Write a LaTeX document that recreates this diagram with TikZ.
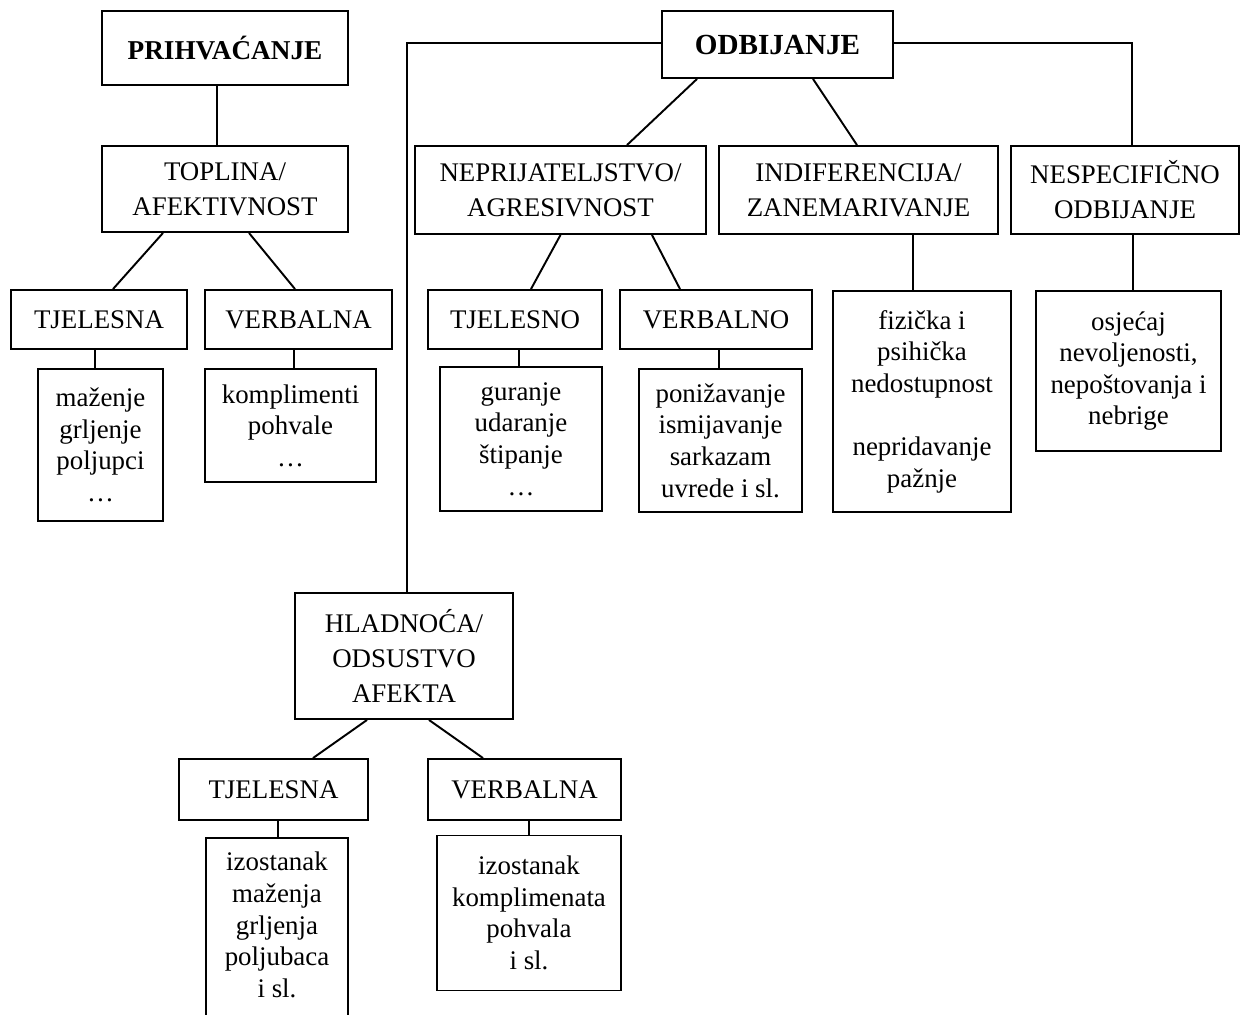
\documentclass[tikz,border=0pt]{standalone}
\usepackage{fontspec}
\setmainfont{Liberation Serif}
\usetikzlibrary{calc}
\begin{document}
\begin{tikzpicture}[x=0.02cm,y=-0.02cm,
  line width=1.1pt,
  bx/.style args={#1/#2}{draw,line width=1.1pt,inner sep=0pt,align=center,
     minimum width=#1*0.02cm,minimum height=#2*0.02cm,
     font=\fontsize{15.3}{20}\selectfont},
  lbx/.style args={#1/#2}{bx=#1/#2,font=\fontsize{15.3}{18}\selectfont},
  txt/.style={inner sep=0pt,align=center,font=\fontsize{15.3}{18}\selectfont},
  conn/.style={line width=1.1pt}]
\useasboundingbox (0,0) rectangle (1240,1014);
% top level
\node[bx=246/74,font=\fontsize{15.5}{20}\selectfont\bfseries] (pri) at (225,48) {PRIHVAĆANJE};
\node[bx=231/67,font=\fontsize{16.6}{20}\selectfont\bfseries] (odb) at (777.5,44.5) {ODBIJANJE};
% acceptance branch
\node[bx=246/86] (top) at (225,189) {TOPLINA/\\AFEKTIVNOST};
\node[bx=176/59] (tj1) at (99,319.5) {TJELESNA};
\node[bx=187/59] (vb1) at (298.5,319.5) {VERBALNA};
\node[lbx=125/152] (c1) at (100.5,445) {maženje\\grljenje\\poljupci\\…};
\node[lbx=171/113] (c2) at (290.5,425.5) {komplimenti\\pohvale\\…};
% rejection branch
\node[bx=291/88] (nep) at (560.5,190) {NEPRIJATELJSTVO/\\AGRESIVNOST};
\node[bx=279/88] (ind) at (858.5,190) {INDIFERENCIJA/\\ZANEMARIVANJE};
\node[bx=228/88] (nes) at (1125,190) {NESPECIFIČNO\\ODBIJANJE};
\node[bx=174/59] (tj2) at (515,319.5) {TJELESNO};
\node[bx=192/59] (vb2) at (716,319.5) {VERBALNO};
\node[lbx=162/144] (c3) at (521,439) {guranje\\udaranje\\štipanje\\…};
\node[lbx=163/143] (c4) at (720.5,440.5) {ponižavanje\\ismijavanje\\sarkazam\\uvrede i sl.};
\node[lbx=178/221] (c5) at (922,401.5) {fizička i\\psihička\\nedostupnost\\~\\nepridavanje\\pažnje};
\node[lbx=185/160] (c6) at (1128.5,371) {osjećaj\\nevoljenosti,\\nepoštovanja i\\nebrige};
% coldness
\node[bx=218/126] (hla) at (404,656) {HLADNOĆA/\\ODSUSTVO\\AFEKTA};
\node[bx=189/61] (tj3) at (273.5,789.5) {TJELESNA};
\node[bx=193/61] (vb3) at (524.5,789.5) {VERBALNA};
\node[txt,minimum width=142*0.02cm] (c7) at (277,925) {izostanak\\maženja\\grljenja\\poljubaca\\i sl.};
\draw (206,1016) -- (206,838) coordinate (c7top) -- (348,838) -- (348,1016);
\node[lbx=184/155] (c8) at (529,913) {izostanak\\komplimenata\\pohvala\\i sl.};
% connectors
\draw ($(pri.south)+(-8,0)$) coordinate (a) -- (a |- top.north);
\draw ($(odb.west)+(0,-1.5)$) -| ($(hla.north)+(3,0)$);
\draw ($(odb.east)+(0,-1.5)$) -| ($(nes.north)+(7,0)$);
\draw ($(odb.south)+(-80.5,0)$) -- ($(nep.north)+(66.5,0)$);
\draw ($(odb.south)+(35.5,0)$) -- ($(ind.north)+(-1.5,0)$);
\draw ($(top.south)+(-62,0)$) -- ($(tj1.north)+(14,0)$);
\draw ($(top.south)+(24,0)$) -- ($(vb1.north)+(-3.5,0)$);
\draw ($(tj1.south)+(-4,0)$) coordinate (b) -- (b |- c1.north);
\draw ($(vb1.south)+(-4.5,0)$) coordinate (b) -- (b |- c2.north);
\draw ($(nep.south)+(0,0)$) -- ($(tj2.north)+(16,0)$);
\draw ($(nep.south)+(91.5,0)$) -- ($(vb2.north)+(-36,0)$);
\draw ($(tj2.south)+(4,0)$) coordinate (b) -- (b |- c3.north);
\draw ($(vb2.south)+(3,0)$) coordinate (b) -- (b |- c4.north);
\draw ($(ind.south)+(54.5,0)$) coordinate (b) -- (b |- c5.north);
\draw ($(nes.south)+(8,0)$) coordinate (b) -- (b |- c6.north);
\draw ($(hla.south)+(-37,0)$) -- ($(tj3.north)+(39.5,0)$);
\draw ($(hla.south)+(25,0)$) -- ($(vb3.north)+(-41.5,0)$);
\draw ($(tj3.south)+(4.5,0)$) coordinate (b) -- (b |- c7top);
\draw ($(vb3.south)+(4.5,0)$) coordinate (b) -- (b |- c8.north);
\end{tikzpicture}
\end{document}
